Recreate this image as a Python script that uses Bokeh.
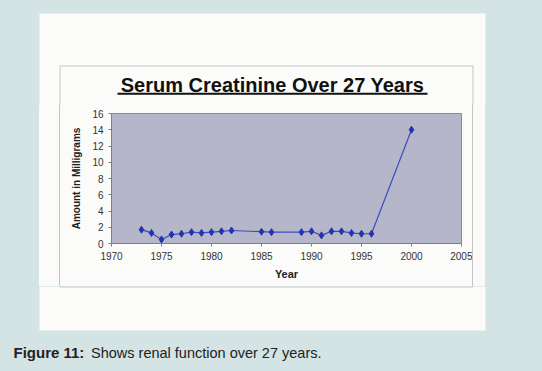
from bokeh.plotting import figure
from bokeh.models import Label, FixedTicker, Range1d, Spacer
from bokeh.layouts import column, row
from bokeh.embed import file_html
from bokeh.resources import INLINE

# ---- data ----
years = [1973, 1974, 1975, 1976, 1977, 1978, 1979, 1980, 1981, 1982,
         1985, 1986, 1989, 1990, 1991, 1992, 1993, 1994, 1995, 1996, 2000]
creatinine = [1.7, 1.3, 0.5, 1.1, 1.2, 1.4, 1.3, 1.4, 1.5, 1.6,
              1.45, 1.4, 1.4, 1.5, 1.0, 1.5, 1.5, 1.3, 1.2, 1.2, 14.0]
x_ticks = [1970, 1975, 1980, 1985, 1990, 1995, 2000, 2005]
y_ticks = [0, 2, 4, 6, 8, 10, 12, 14, 16]
title_text = "Serum Creatinine Over 27 Years"
x_label = "Year"
y_label = "Amount in Milligrams"
caption_bold = "Figure 11:"
caption_rest = "Shows renal function over 27 years."

OUTER = "#d4e3e4"
PANEL = "#fbfcfa"
BOX = "#c4c4c4"
FONT = "Liberation Sans"

# page geometry (px)
PW, PH = 542, 371
PANEL_L, PANEL_R, PANEL_T, PANEL_B = 39, 485, 13, 330
BOX_L, BOX_R, BOX_T, BOX_B = 59.5, 472.5, 65.5, 286.5
MID_T, MID_B = 105, 286          # rows occupied by the chart figure
CH_L, CH_R = 60, 472             # columns occupied by the chart figure
MID_H = MID_B - MID_T


def pixel_fig(x0, x1, y0, y1):
    """Figure covering page columns x0..x1 and rows y0..y1; data = page pixels."""
    f = figure(width=x1 - x0, height=y1 - y0, output_backend="svg",
               toolbar_location=None, title=None,
               x_range=Range1d(x0, x1), y_range=Range1d(y1, y0),
               x_axis_location=None, y_axis_location=None, min_border=0)
    f.grid.visible = False
    f.outline_line_color = None
    f.border_fill_color = OUTER
    f.background_fill_color = OUTER
    f.quad(left=PANEL_L, right=PANEL_R, top=max(PANEL_T, y0), bottom=min(PANEL_B, y1),
           fill_color=PANEL, line_color=None)
    return f


def strip(w, color):
    return Spacer(width=w, height=MID_H, styles={"background-color": color})


# ---- header (title) ----
head = pixel_fig(0, PW, 0, MID_T)
head.multi_line(xs=[[BOX_L, BOX_L, BOX_R, BOX_R]], ys=[[MID_T, BOX_T, BOX_T, MID_T]],
                line_color=BOX, line_width=1)
head.add_layout(Label(x=272, y=84, text=title_text, text_font=FONT,
                      text_font_style="bold", text_font_size="20px",
                      text_align="center", text_baseline="middle",
                      text_color="#111111"))
head.quad(left=117, right=427, top=92.3, bottom=94.2, fill_color="#111111", line_color=None)

# ---- main chart ----
p = figure(width=CH_R - CH_L, height=MID_H, output_backend="svg",
           toolbar_location=None,
           x_range=Range1d(1970, 2005), y_range=Range1d(0, 16),
           min_border_left=51, min_border_right=11,
           min_border_top=8, min_border_bottom=43,
           styles={"background-color": PANEL})
p.border_fill_color = PANEL
p.background_fill_color = "#b6b6ca"
p.outline_line_color = "#8c8c8c"
p.grid.visible = False

for ax, ticks, lab in ((p.xaxis[0], x_ticks, x_label), (p.yaxis[0], y_ticks, y_label)):
    ax.ticker = FixedTicker(ticks=ticks)
    ax.minor_tick_line_color = None
    ax.major_tick_in = 0
    ax.major_tick_out = 3
    ax.axis_line_color = "#808080"
    ax.major_tick_line_color = "#808080"
    ax.major_label_text_font = FONT
    ax.major_label_text_font_size = "10px"
    ax.major_label_text_color = "#333333"
    ax.major_label_standoff = 5
    ax.axis_label = lab
    ax.axis_label_text_font = FONT
    ax.axis_label_text_font_style = "bold"
    ax.axis_label_text_color = "#222222"
p.xaxis[0].axis_label_text_font_size = "11px"
p.yaxis[0].axis_label_text_font_size = "10px"
p.xaxis[0].axis_label_standoff = 5
p.yaxis[0].axis_label_standoff = 7

p.line(years, creatinine, line_color="#3b4cc0", line_width=1.2)
p.scatter(years, creatinine, marker="diamond", size=7, color="#2233b0")

middle = row(strip(PANEL_L, OUTER), strip(int(BOX_L) - PANEL_L, PANEL), strip(1, BOX),
             p,
             strip(1, BOX), strip(PANEL_R - CH_R - 1, PANEL), strip(PW - PANEL_R, OUTER))

# ---- footer (caption) ----
foot = pixel_fig(0, PW, MID_B, PH)
foot.multi_line(xs=[[BOX_L, BOX_L, BOX_R, BOX_R]], ys=[[MID_B, BOX_B, BOX_B, MID_B]],
                line_color=BOX, line_width=1)
foot.add_layout(Label(x=13, y=352, text=caption_bold, text_font=FONT,
                      text_font_style="bold", text_font_size="15px",
                      text_baseline="middle", text_color="#222222"))
foot.add_layout(Label(x=90.5, y=352, text=caption_rest, text_font=FONT,
                      text_font_size="14.5px",
                      text_baseline="middle", text_color="#222222"))

root = column(head, middle, foot)

html = file_html(root, INLINE)
html = html.replace("<head>", "<head><style>html,body{background:%s;}</style>" % OUTER, 1)
open("out.html", "w").write(html)
